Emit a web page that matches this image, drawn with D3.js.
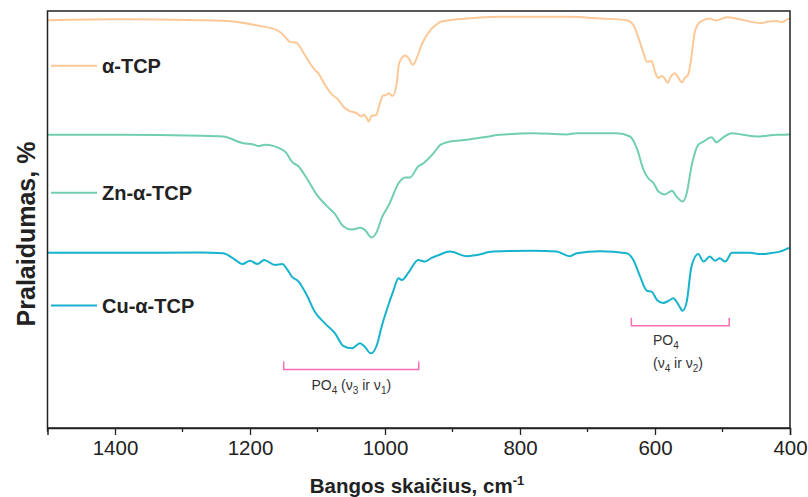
<!DOCTYPE html>
<html lang="lt">
<head>
<meta charset="utf-8">
<script src="https://d3js.org/d3.v7.min.js"></script>
<style>
  body { margin: 0; background: #fff; }
  text { font-family: "Liberation Sans", Arial, sans-serif; }
</style>
</head>
<body>
<script>
// wavenumbers (cm-1) and transmittance (arb. %, offset per sample)
var wnA = [1500,1393,1274,1234,1185,1160,1148,1141,1131,1126,1116,1104,1099,1089,1079,1069,1062,1052,1042,1035,1031,1027,1024,1020,1013,1007,1003,998,994,989,983,979,970,965,959,953,946,933,921,918,879,830,731,681,642,632,625,617,612,605,600,595,590,586,581,577,571,567,560,556,551,546,541,533,519,509,494,474,454,442,434,420,412,402,400];
var tA  = [97.8,98.0,97.8,97.6,96.4,95.4,93.8,92.6,92.4,91.4,88.7,85.9,85.1,82.3,80.0,78.7,77.1,76.0,75.5,74.7,75.2,74.3,73.5,74.8,75.1,78.2,79.7,79.9,80.3,79.6,82.3,87.5,89.3,88.7,87.1,88.7,91.8,95.4,97.1,97.4,98.2,98.6,98.6,98.2,97.8,96.6,93.8,89.9,87.8,88.0,85.4,83.9,84.4,83.9,82.8,84.1,85.1,84.4,82.9,83.9,84.7,89.0,95.0,97.4,98.2,97.7,98.5,98.0,97.3,97.1,97.4,97.6,97.3,98.1,98.1];

var wnZn = [1500,1393,1274,1240,1210,1195,1188,1178,1153,1146,1138,1128,1116,1101,1086,1074,1062,1049,1037,1030,1020,1012,1005,993,980,970,963,951,943,928,918,904,879,854,830,780,731,716,657,637,627,617,610,602,595,585,575,568,559,553,546,536,528,516,509,499,486,469,449,434,420,402,400];
var tZn  = [70.3,70.3,70.1,69.9,68.3,68.0,67.6,67.9,66.8,65.9,63.9,62.7,59.9,55.9,53.2,51.3,48.4,47.6,48.0,47.5,45.7,47.1,50.3,53.9,58.7,60.1,60.1,62.7,63.5,65.9,67.9,68.7,69.1,69.7,70.3,70.7,70.4,70.7,70.7,69.9,67.1,61.9,59.9,58.7,56.7,56.0,56.9,55.5,54.3,56.3,62.7,67.9,68.7,69.7,68.5,69.7,70.7,70.3,69.9,70.1,70.3,70.4,70.5];

var wnCu = [1500,1393,1274,1240,1225,1211,1200,1189,1179,1163,1152,1146,1138,1128,1116,1104,1089,1074,1062,1049,1037,1030,1021,1012,1005,995,988,980,975,965,951,941,931,920,904,879,864,840,780,746,726,716,681,642,632,622,612,605,597,588,580,573,565,559,553,546,536,528,519,511,504,496,486,459,444,430,415,402,400];
var tCu  = [42.0,42.0,42.1,41.9,40.7,39.3,40.1,39.3,40.3,39.1,39.3,38.3,36.3,35.1,31.9,27.9,25.1,22.7,19.7,19.1,20.3,19.5,17.9,19.9,24.3,29.5,32.7,35.9,35.5,37.3,40.3,39.9,40.8,41.5,42.3,41.2,41.5,42.3,42.5,42.3,41.2,41.9,42.4,41.9,40.3,36.3,32.9,32.7,30.7,30.0,30.5,31.1,29.5,28.1,30.3,38.7,41.7,39.9,41.1,40.1,40.7,39.9,42.0,42.0,41.7,41.9,42.3,43.1,43.2];

var samples = ["α-TCP", "Zn-α-TCP", "Cu-α-TCP"];
var colors = ["#FDC898", "#72CFAD", "#17B3CD"];
var legendT = [86.9, 56.4, 29.4];
var xTicks = [1400, 1200, 1000, 800, 600, 400];

var series = [
  { name: samples[0], wn: wnA, t: tA },
  { name: samples[1], wn: wnZn, t: tZn },
  { name: samples[2], wn: wnCu, t: tCu }
];

var W = 808, H = 497;
var margin = { left: 47.5, right: 18, top: 11, bottom: 69 };

var svg = d3.select("body").append("svg")
  .attr("width", W)
  .attr("height", H);

var x = d3.scaleLinear().domain([1500, 400]).range([margin.left, W - margin.right]);
var y = d3.scaleLinear().domain([0, 100]).range([H - margin.bottom, margin.top]);

var line = d3.line()
  .x(function(d) { return x(d[0]); })
  .y(function(d) { return y(d[1]); })
  .curve(d3.curveMonotoneX);

// spectra
series.forEach(function(s, i) {
  var pts = s.wn.map(function(w, j) { return [w, s.t[j]]; });
  svg.append("path")
    .datum(pts)
    .attr("fill", "none")
    .attr("stroke", colors[i])
    .attr("stroke-width", 2)
    .attr("stroke-linejoin", "round")
    .attr("d", line);

  // legend entries on the left
  svg.append("line")
    .attr("x1", 51).attr("x2", 97)
    .attr("y1", y(legendT[i])).attr("y2", y(legendT[i]))
    .attr("stroke", colors[i]).attr("stroke-width", 2);
  svg.append("text")
    .attr("x", 102).attr("y", y(legendT[i]))
    .attr("dy", "0.36em")
    .attr("font-size", 20).attr("font-weight", "bold")
    .attr("fill", "#222")
    .text(s.name);
});

// frame
svg.append("rect")
  .attr("x", margin.left).attr("y", margin.top)
  .attr("width", W - margin.right - margin.left)
  .attr("height", H - margin.bottom - margin.top)
  .attr("fill", "none").attr("stroke", "#222").attr("stroke-width", 1.5);

// bottom axis
var xAxis = svg.append("g")
  .attr("transform", "translate(0," + (H - margin.bottom) + ")")
  .call(d3.axisBottom(x).tickValues(xTicks).tickSize(7).tickPadding(5).tickFormat(d3.format("d")));
xAxis.select(".domain").attr("stroke", "#222").attr("stroke-width", 1.5);
xAxis.selectAll(".tick line").attr("stroke", "#222").attr("stroke-width", 1.3);
xAxis.selectAll(".tick text").attr("font-size", 20.5).attr("fill", "#222")
  .style("font-family", "'Liberation Sans', Arial, sans-serif");

// minor ticks
svg.append("g").selectAll("line")
  .data([1500, 1300, 1100, 900, 700, 500])
  .join("line")
  .attr("x1", function(d) { return x(d); }).attr("x2", function(d) { return x(d); })
  .attr("y1", H - margin.bottom).attr("y2", H - margin.bottom + 4)
  .attr("stroke", "#222").attr("stroke-width", 1.3);

// axis titles
var xt = svg.append("text")
  .attr("x", 417).attr("y", 493)
  .attr("text-anchor", "middle")
  .attr("font-size", 20.5).attr("font-weight", "bold").attr("fill", "#222");
xt.append("tspan").text("Bangos skaičius, cm");
xt.append("tspan").attr("dy", -8).attr("font-size", 13).text("-1");

svg.append("text")
  .attr("transform", "translate(35," + 234 + ") rotate(-90)")
  .attr("text-anchor", "middle")
  .attr("font-size", 25).attr("font-weight", "bold").attr("fill", "#222")
  .text("Pralaidumas, %");

// band annotations
var bands = [
  { from: 1150, to: 950, t: 14.0 },
  { from: 635, to: 490, t: 24.5 }
];
var pink = "#FF6EB4";
bands.forEach(function(b) {
  var yy = y(b.t);
  svg.append("path")
    .attr("d", "M" + x(b.from) + "," + (yy - 8) + "V" + yy + "H" + x(b.to) + "V" + (yy - 8))
    .attr("fill", "none").attr("stroke", pink).attr("stroke-width", 1.5);
});

function subLabel(g, parts) {
  parts.forEach(function(p) {
    var ts = g.append("tspan").text(p[0]);
    if (p[1]) ts.attr("font-size", 10).attr("dy", 4);
    else if (p[2]) ts.attr("dy", -4);
  });
}

var l1 = svg.append("text")
  .attr("x", x(1050)).attr("y", y(14.0) + 20)
  .attr("text-anchor", "middle").attr("font-size", 14).attr("fill", "#333");
subLabel(l1, [["PO"], ["4", 1], [" (ν", 0, 1], ["3", 1], [" ir ν", 0, 1], ["1", 1], [")", 0, 1]]);

var l2 = svg.append("text")
  .attr("x", 653).attr("y", y(24.5) + 19)
  .attr("font-size", 14).attr("fill", "#333");
subLabel(l2, [["PO"], ["4", 1]]);

var l3 = svg.append("text")
  .attr("x", 653).attr("y", y(24.5) + 42)
  .attr("font-size", 14).attr("fill", "#333");
subLabel(l3, [["(ν"], ["4", 1], [" ir ν", 0, 1], ["2", 1], [")", 0, 1]]);
</script>
</body>
</html>
